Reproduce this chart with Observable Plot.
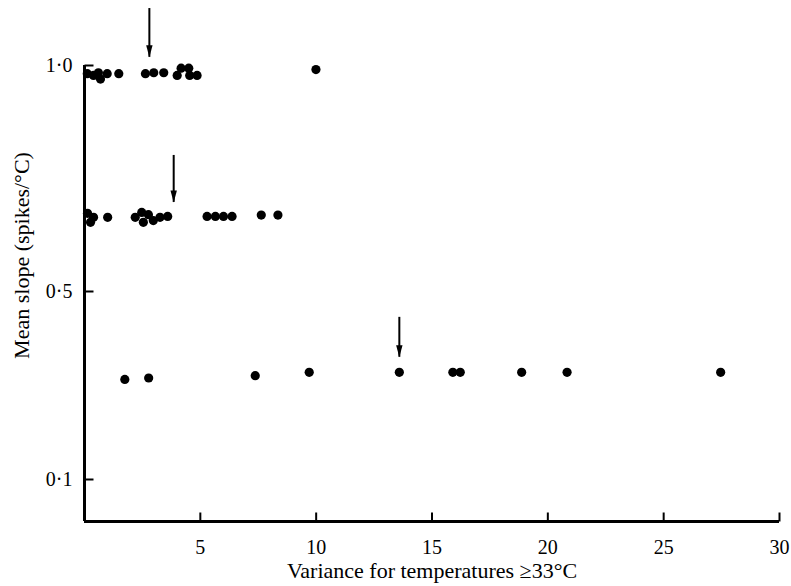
<!DOCTYPE html>
<html>
<head>
<meta charset="utf-8">
<script src="https://cdn.jsdelivr.net/npm/d3@7"></script>
<script src="https://cdn.jsdelivr.net/npm/@observablehq/plot@0.6"></script>
<style>
  html, body { margin: 0; padding: 0; background: #fff; overflow: hidden; }
</style>
</head>
<body>
<div id="chart"></div>
<script>
// ---- data ----
// top row (slope ~1·0)
const topX = [0.12, 0.39, 0.60, 0.69, 0.98, 1.48, 2.63, 2.99, 3.42, 4.00, 4.17, 4.50, 4.54, 4.86, 9.99];
const topY = [0.982, 0.978, 0.984, 0.970, 0.982, 0.982, 0.982, 0.984, 0.984, 0.978, 0.994, 0.994, 0.978, 0.978, 0.991];
// middle row (slope ~0·66)
const midX = [0.13, 0.26, 0.39, 1.00, 2.19, 2.47, 2.54, 2.76, 2.97, 3.26, 3.59, 5.29, 5.65, 6.00, 6.37, 7.63, 8.35];
const midY = [0.673, 0.653, 0.664, 0.664, 0.664, 0.675, 0.653, 0.670, 0.657, 0.664, 0.666, 0.666, 0.666, 0.666, 0.666, 0.669, 0.669];
// bottom row (slope ~0·33)
const botX = [1.74, 2.77, 7.37, 9.70, 13.59, 15.90, 16.22, 18.87, 20.83, 27.46];
const botY = [0.313, 0.316, 0.321, 0.328, 0.328, 0.328, 0.328, 0.328, 0.328, 0.328];
// arrows marking one point in each row
const arrowX = [2.80, 3.85, 13.59];
const arrowTop = [1.126, 0.801, 0.445];
const arrowTip = [1.018, 0.697, 0.360];
// axes
const xTicks = [5, 10, 15, 20, 25, 30];
const yTicks = [0.1, 0.5, 1.0];
const yTickLabels = ["0·1", "0·5", "1·0"];
const xTitle = "Variance for temperatures ≥33°C";
const yTitle = "Mean slope (spikes/°C)";

// ---- build ----
const toRows = (xs, ys) => xs.map((x, i) => ({x, y: ys[i]}));
const points = [...toRows(topX, topY), ...toRows(midX, midY), ...toRows(botX, botY)];
const arrows = arrowX.map((x, i) => ({x, y1: arrowTop[i], y2: arrowTip[i]}));
const yBase = 0.0106;
const font = "Liberation Serif";

const tickUp = {draw(ctx) { ctx.moveTo(0, 0); ctx.lineTo(0, -9); }};
const tickRight = {draw(ctx) { ctx.moveTo(0, 0); ctx.lineTo(9, 0); }};
const headDown = {draw(ctx) { ctx.moveTo(-3.2, -12); ctx.lineTo(3.2, -12); ctx.lineTo(0, 0); ctx.closePath(); }};

const chart = Plot.plot({
  width: 791,
  height: 586,
  marginLeft: 84,
  marginRight: 12,
  marginTop: 65,
  marginBottom: 65,
  style: {fontFamily: font, background: "#fff", color: "#000", overflow: "visible"},
  x: {domain: [0, 30]},
  y: {type: "linear", domain: [yBase, 0.1, 0.5, 1.0], range: [521, 479, 291, 65]},
  marks: [
    // axis frame
    Plot.ruleX([0], {y1: yBase, y2: 1.0, stroke: "#000", strokeWidth: 3}),
    Plot.ruleY([yBase], {x1: 0, x2: 30, stroke: "#000", strokeWidth: 3}),
    // tick marks (inward)
    Plot.dot(xTicks, {x: d => d, y: yBase, symbol: tickUp, r: 5, fill: "none", stroke: "#000", strokeWidth: 2}),
    Plot.dot(yTicks, {x: 0, y: d => d, symbol: tickRight, r: 5, fill: "none", stroke: "#000", strokeWidth: 2}),
    // tick labels
    Plot.axisX({ticks: xTicks, tickSize: 0, tickPadding: 18, fontSize: 20, label: null, tickFormat: d => String(d)}),
    Plot.axisY({ticks: yTicks, tickSize: 0, tickPadding: 12, fontSize: 20, label: null,
      tickFormat: d => yTickLabels[yTicks.indexOf(d)]}),
    // axis titles
    Plot.text([xTitle], {frameAnchor: "bottom", dy: 56, text: d => d, fontSize: 22, fill: "#000", textAnchor: "middle"}),
    Plot.text([yTitle], {frameAnchor: "left", dx: -63, dy: -38, rotate: -90, text: d => d, fontSize: 22, fill: "#000", textAnchor: "middle"}),
    // arrows
    Plot.ruleX(arrows, {x: "x", y1: "y1", y2: "y2", stroke: "#000", strokeWidth: 2}),
    Plot.dot(arrows, {x: "x", y: "y2", symbol: headDown, r: 5, fill: "#000", stroke: "none"}),
    // data points
    Plot.dot(points, {x: "x", y: "y", r: 4.6, fill: "#000", stroke: "none"})
  ]
});
document.getElementById("chart").appendChild(chart);
</script>
</body>
</html>
